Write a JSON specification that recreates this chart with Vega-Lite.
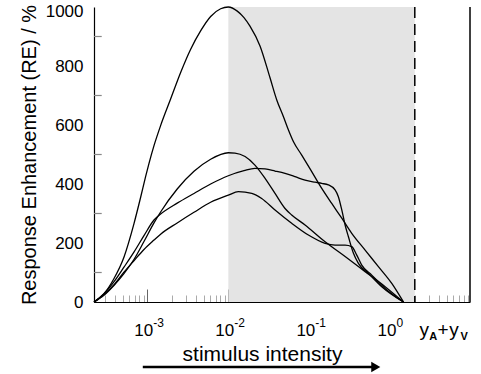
{
  "$schema": "https://vega.github.io/schema/vega-lite/v6.json",
  "width": 376,
  "height": 295,
  "autosize": {"type": "none"},
  "padding": {"left": 94, "top": 7, "right": 11, "bottom": 72},
  "config": {"view": {"stroke": null}, "font": "Liberation Sans", "axis": {"grid": false}},
  "datasets": {
    "one": [{}],
    "yminor": [{"v": 100}, {"v": 300}, {"v": 500}, {"v": 700}, {"v": 900}],
    "decades": [{"v": 0.001, "sup": "-3"}, {"v": 0.01, "sup": "-2"}, {"v": 0.1, "sup": "-1"}, {"v": 1, "sup": "0"}],
    "curves": [
      {"s":"A","x":0.00022,"y":0},{"s":"A","x":0.000292,"y":28},{"s":"A","x":0.000387,"y":79},{"s":"A","x":0.000515,"y":152},{"s":"A","x":0.000684,"y":265},{"s":"A","x":0.000828,"y":355},{"s":"A","x":0.000953,"y":425},{"s":"A","x":0.00105,"y":470},{"s":"A","x":0.00121,"y":530},{"s":"A","x":0.00146,"y":598},{"s":"A","x":0.00194,"y":688},{"s":"A","x":0.00258,"y":778},{"s":"A","x":0.00343,"y":857},{"s":"A","x":0.00455,"y":919},{"s":"A","x":0.00605,"y":968},{"s":"A","x":0.00804,"y":994},{"s":"A","x":0.01,"y":1000},{"s":"A","x":0.0129,"y":986},{"s":"A","x":0.0156,"y":964},{"s":"A","x":0.0185,"y":935},{"s":"A","x":0.0246,"y":868},{"s":"A","x":0.0327,"y":760},{"s":"A","x":0.0396,"y":685},{"s":"A","x":0.0479,"y":628},{"s":"A","x":0.0552,"y":583},{"s":"A","x":0.0637,"y":543},{"s":"A","x":0.0805,"y":498},{"s":"A","x":0.1069,"y":442},{"s":"A","x":0.1422,"y":385},{"s":"A","x":0.1888,"y":334},{"s":"A","x":0.2512,"y":284},{"s":"A","x":0.3334,"y":233},{"s":"A","x":0.4875,"y":176},{"s":"A","x":0.711,"y":120},{"s":"A","x":1.04,"y":63},{"s":"A","x":1.449,"y":0},
      {"s":"B","x":0.00022,"y":0},{"s":"B","x":0.000292,"y":23},{"s":"B","x":0.000387,"y":56},{"s":"B","x":0.000515,"y":96},{"s":"B","x":0.000684,"y":144},{"s":"B","x":0.00091,"y":205},{"s":"B","x":0.00121,"y":268},{"s":"B","x":0.00146,"y":305},{"s":"B","x":0.00234,"y":383},{"s":"B","x":0.00377,"y":443},{"s":"B","x":0.00605,"y":484},{"s":"B","x":0.01,"y":506},{"s":"B","x":0.01208,"y":505},{"s":"B","x":0.0161,"y":493},{"s":"B","x":0.0213,"y":464},{"s":"B","x":0.0284,"y":419},{"s":"B","x":0.0377,"y":368},{"s":"B","x":0.0501,"y":317},{"s":"B","x":0.0605,"y":295},{"s":"B","x":0.0885,"y":261},{"s":"B","x":0.1563,"y":204},{"s":"B","x":0.2761,"y":154},{"s":"B","x":0.4875,"y":103},{"s":"B","x":0.861,"y":52},{"s":"B","x":1.449,"y":0},
      {"s":"C","x":0.00022,"y":0},{"s":"C","x":0.000292,"y":28},{"s":"C","x":0.000387,"y":68},{"s":"C","x":0.000515,"y":118},{"s":"C","x":0.000684,"y":169},{"s":"C","x":0.00091,"y":225},{"s":"C","x":0.00121,"y":278},{"s":"C","x":0.00146,"y":298},{"s":"C","x":0.00234,"y":335},{"s":"C","x":0.00377,"y":368},{"s":"C","x":0.00605,"y":400},{"s":"C","x":0.01,"y":428},{"s":"C","x":0.0156,"y":445},{"s":"C","x":0.0213,"y":453},{"s":"C","x":0.0284,"y":451},{"s":"C","x":0.0377,"y":444},{"s":"C","x":0.0501,"y":436},{"s":"C","x":0.0665,"y":425},{"s":"C","x":0.0885,"y":413},{"s":"C","x":0.1175,"y":406},{"s":"C","x":0.1422,"y":402},{"s":"C","x":0.1718,"y":397},{"s":"C","x":0.2075,"y":380},{"s":"C","x":0.228,"y":357},{"s":"C","x":0.2512,"y":312},{"s":"C","x":0.2761,"y":261},{"s":"C","x":0.3034,"y":221},{"s":"C","x":0.35,"y":165},{"s":"C","x":0.4027,"y":131},{"s":"C","x":0.536,"y":97},{"s":"C","x":0.782,"y":52},{"s":"C","x":1.449,"y":0},
      {"s":"D","x":0.00022,"y":0},{"s":"D","x":0.000292,"y":25},{"s":"D","x":0.000387,"y":58},{"s":"D","x":0.000515,"y":101},{"s":"D","x":0.000684,"y":140},{"s":"D","x":0.00091,"y":178},{"s":"D","x":0.00121,"y":210},{"s":"D","x":0.00146,"y":230},{"s":"D","x":0.00234,"y":268},{"s":"D","x":0.00377,"y":304},{"s":"D","x":0.00605,"y":338},{"s":"D","x":0.01,"y":362},{"s":"D","x":0.0133,"y":374},{"s":"D","x":0.0195,"y":368},{"s":"D","x":0.0258,"y":351},{"s":"D","x":0.0377,"y":312},{"s":"D","x":0.0605,"y":267},{"s":"D","x":0.0973,"y":227},{"s":"D","x":0.1563,"y":199},{"s":"D","x":0.2075,"y":193},{"s":"D","x":0.2761,"y":193},{"s":"D","x":0.3334,"y":188},{"s":"D","x":0.3846,"y":159},{"s":"D","x":0.443,"y":125},{"s":"D","x":0.589,"y":91},{"s":"D","x":0.861,"y":46},{"s":"D","x":1.449,"y":0}
    ]
  },
  "layer": [
    {
      "data": {"values": [{"from": 0.01, "to": 2}]},
      "mark": {"type": "rect", "color": "#e4e4e4"},
      "encoding": {
        "x": {
          "field": "from", "type": "quantitative",
          "scale": {"type": "log", "domain": [0.00022, 9.6], "nice": false},
          "axis": {
            "values": [0.0003,0.0004,0.0005,0.0006,0.0007,0.0008,0.0009,0.001,0.002,0.003,0.004,0.005,0.006,0.007,0.008,0.009,0.01,0.02,0.03,0.04,0.05,0.06,0.07,0.08,0.09,0.1,0.2,0.3,0.4,0.5,0.6,0.7,0.8,0.9,1,2,3,4,5,6,7,8,9],
            "labelExpr": "indexof([0.001,0.01,0.1,1], datum.value) >= 0 ? '10' : ''",
            "labelOffset": -4,
            "tickSize": {"condition": {"test": "indexof([0.001,0.01,0.1,1], datum.value) >= 0", "value": -13}, "value": -7},
            "tickColor": {"condition": {"test": "indexof([0.001,0.01,0.1,1], datum.value) >= 0", "value": "#666666"}, "value": "#aaaaaa"},
            "domainColor": "black",
            "domainWidth": 1.2,
            "labelFontSize": 17,
            "labelColor": "black",
            "labelPadding": 33,
            "labelOverlap": false,
            "labelFlush": false,
            "labelBound": false,
            "title": "stimulus intensity",
            "titleFontSize": 21,
            "titleFontWeight": "normal",
            "titleColor": "black",
            "titleX": 168,
            "titleY": 58,
            "titleAlign": "center",
            "titleBaseline": "alphabetic"
          }
        },
        "x2": {"field": "to"}
      }
    },
    {
      "data": {"name": "one"},
      "mark": {"type": "rule", "color": "black", "strokeWidth": 1.5, "strokeDash": [11, 6]},
      "encoding": {"x": {"datum": 2}}
    },
    {
      "data": {"name": "one"},
      "mark": {"type": "rule", "color": "black", "strokeWidth": 1.5},
      "encoding": {"x": {"datum": 9.6}}
    },
    {
      "data": {"name": "yminor"},
      "mark": {"type": "rule", "color": "#888888", "strokeWidth": 1.2},
      "encoding": {"x": {"datum": 0.00022}, "x2": {"datum": 0.000274}, "y": {"field": "v", "type": "quantitative"}}
    },
    {
      "data": {"name": "curves"},
      "mark": {"type": "line", "interpolate": "monotone", "color": "black", "strokeWidth": 1.3},
      "encoding": {
        "x": {"field": "x", "type": "quantitative"},
        "y": {
          "field": "y", "type": "quantitative",
          "scale": {"domain": [0, 1000], "nice": false},
          "axis": {
            "values": [0,200,400,600,800,1000],
            "format": "d",
            "ticks": false,
            "labelOffset": {"condition": {"test": "datum.value === 1000", "value": 4}, "value": 0},
            "domainColor": "black",
            "domainWidth": 1.2,
            "labelFontSize": 17,
            "labelColor": "black",
            "labelPadding": 11,
            "labelOverlap": false,
            "labelFlush": false,
            "labelBound": false,
            "title": "Response Enhancement (RE) / %",
            "titleFontSize": 20,
            "titleFontWeight": "normal",
            "titleColor": "black",
            "titleX": -59,
            "titleY": 147.5,
            "titleAngle": -90,
            "titleAlign": "center",
            "titleBaseline": "alphabetic"
          }
        },
        "detail": {"field": "s", "type": "nominal"}
      }
    },
    {
      "data": {"name": "decades"},
      "mark": {"type": "text", "fontSize": 12, "align": "left", "baseline": "alphabetic", "dx": 6, "dy": 25, "color": "black", "clip": false},
      "encoding": {"x": {"field": "v", "type": "quantitative"}, "y": {"datum": 0}, "text": {"field": "sup"}}
    },
    {
      "data": {"name": "one"},
      "mark": {"type": "text", "text": "y", "fontSize": 19, "align": "center", "baseline": "alphabetic", "dy": 34, "color": "black", "clip": false},
      "encoding": {"x": {"datum": 2.61}, "y": {"datum": 0}}
    },
    {
      "data": {"name": "one"},
      "mark": {"type": "text", "text": "A", "fontSize": 11, "fontWeight": "bold", "align": "center", "baseline": "alphabetic", "dy": 38, "color": "black", "clip": false},
      "encoding": {"x": {"datum": 3.37}, "y": {"datum": 0}}
    },
    {
      "data": {"name": "one"},
      "mark": {"type": "text", "text": "+", "fontSize": 19, "align": "center", "baseline": "alphabetic", "dy": 34, "color": "black", "clip": false},
      "encoding": {"x": {"datum": 4.47}, "y": {"datum": 0}}
    },
    {
      "data": {"name": "one"},
      "mark": {"type": "text", "text": "y", "fontSize": 19, "align": "center", "baseline": "alphabetic", "dy": 34, "color": "black", "clip": false},
      "encoding": {"x": {"datum": 6.11}, "y": {"datum": 0}}
    },
    {
      "data": {"name": "one"},
      "mark": {"type": "text", "text": "V", "fontSize": 11, "fontWeight": "bold", "align": "center", "baseline": "alphabetic", "dy": 38, "color": "black", "clip": false},
      "encoding": {"x": {"datum": 8.13}, "y": {"datum": 0}}
    },
    {
      "data": {"name": "one"},
      "mark": {"type": "rule", "color": "black", "strokeWidth": 2.5, "clip": false},
      "encoding": {"x": {"datum": 0.00088}, "x2": {"datum": 0.6}, "y": {"datum": -220}}
    },
    {
      "data": {"name": "one"},
      "mark": {"type": "point", "shape": "triangle-right", "filled": true, "color": "black", "opacity": 1, "size": 110, "clip": false},
      "encoding": {"x": {"datum": 0.66}, "y": {"datum": -220}}
    }
  ]
}
